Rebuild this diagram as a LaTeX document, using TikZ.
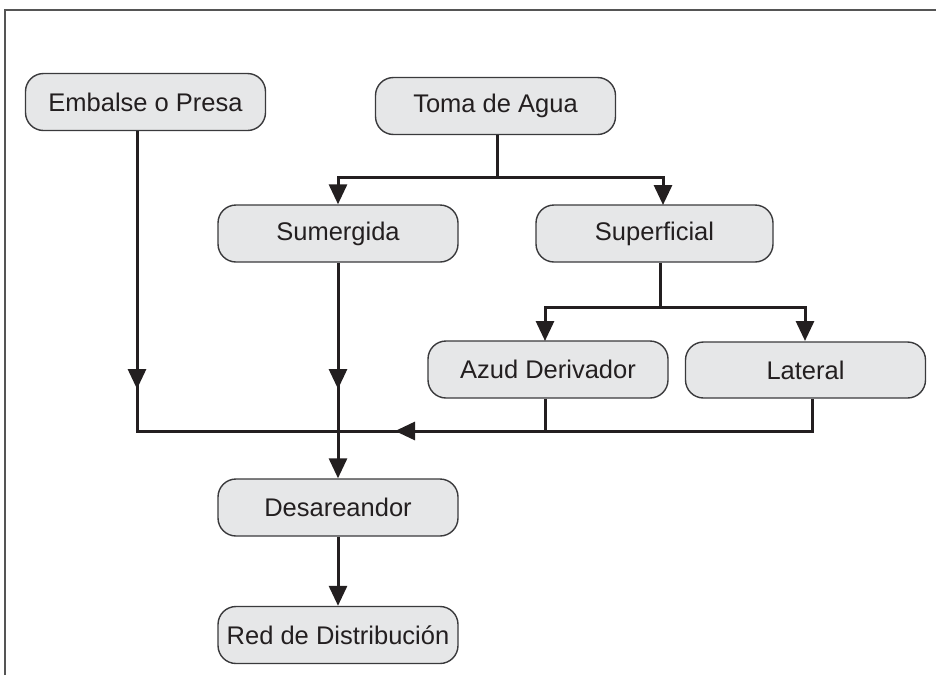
\documentclass[tikz,border=0pt]{standalone}
\usepackage{fontspec}
\setmainfont{Liberation Sans}
\usetikzlibrary{arrows.meta}
\definecolor{ink}{HTML}{231F20}
\definecolor{boxfill}{HTML}{E6E7E8}
\definecolor{boxline}{HTML}{3A3A3C}
\definecolor{framec}{HTML}{555555}
\begin{document}
\begin{tikzpicture}[x=1pt,y=-1pt,
  block/.style={draw=boxline, line width=1.4pt, fill=boxfill, rounded corners=18pt,
    minimum width=240pt, minimum height=57pt, inner sep=0pt, text=ink,
    font=\fontsize{25.5}{30}\selectfont},
  flow/.style={draw=ink, line width=3pt},
  tip/.style={flow, -{Triangle[length=20pt,width=18pt]}}]
\useasboundingbox (0,0) rectangle (936,675);
% page frame (top and left rules)
\draw[framec, line width=2.5pt] (5,675) -- (5,10) -- (936,10);

% boxes
\node[block] (emb)  at (145.5,102)  {Embalse o Presa};
\node[block] (toma) at (495.5,106)  {Toma de Agua};
\node[block] (sum)  at (338,233.5)  {Sumergida};
\node[block, minimum width=237pt] (sup) at (654.5,233.5) {Superficial};
\node[block] (azud) at (548,369.5)  {Azud Derivador};
\node[block, minimum width=240pt, minimum height=56pt] (lat) at (805.5,370) {Lateral};
\node[block] (des)  at (338,507.5)  {Desareandor};
\node[block] (red)  at (338,635)    {Red de Distribución};

% junction points
\coordinate (tj)    at (497,177);
\coordinate (supin) at (663,205);
\coordinate (sj)    at (660,307);
\coordinate (azin)  at (545,341);
\coordinate (latin) at (805,341);
\coordinate (ej)    at (137,431);
\coordinate (aj)    at (545,431);
\coordinate (lj)    at (812,431);
\coordinate (ea1)   at (137,368);
\coordinate (ea2)   at (137,389);
\coordinate (sa1)   at (338,368);
\coordinate (sa2)   at (338,389);
\coordinate (ha1)   at (416,431);
\coordinate (ha2)   at (395,431);

% Toma de Agua branches
\draw[flow] (tj |- toma.south) -- (tj);
\draw[tip] (tj) -| (sum.north);
\draw[tip] (tj) -| (supin);

% Superficial branches
\draw[flow] (sj |- sup.south) -- (sj);
\draw[tip] (sj) -| (azin);
\draw[tip] (sj) -| (latin);

% collector line
\draw[flow] (emb.south -| ej) -- (ej) -- (lj) -- (lj |- lat.south);
\draw[flow] (aj |- azud.south) -- (aj);
\draw[tip] (ea1) -- (ea2);
\draw[tip] (sa1) -- (sa2);
\draw[tip] (ha1) -- (ha2);

% main line down
\draw[tip] (sum.south) -- (des.north);
\draw[tip] (des.south) -- (red.north);
\end{tikzpicture}
\end{document}
